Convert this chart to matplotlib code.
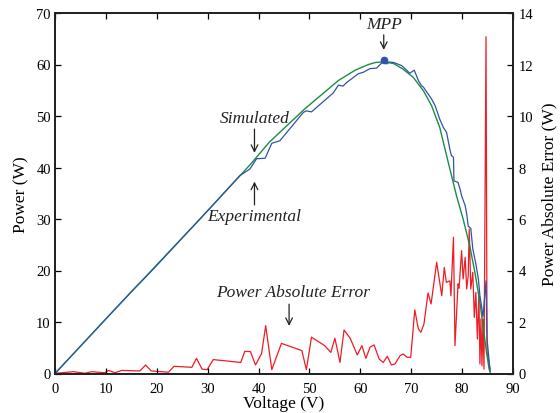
import matplotlib
matplotlib.use("Agg")
import matplotlib.pyplot as plt

# Simulated power curve (green)
sim_v = [0, 10, 20, 30, 38.3, 42.2, 49.1, 55.7, 59.0, 61.6, 63.0, 64.5, 66.5, 68.4, 70.4,
         72.4, 74.0, 75.6, 77.2, 78.9, 80.2, 81.5, 82.5, 83.5, 84.1, 84.8, 85.3, 85.6]
sim_p = [0, 10.6, 21.1, 31.6, 40.5, 45.0, 51.4, 56.9, 58.9, 60.0, 60.4, 60.5, 60.2, 59.1, 57.5,
         54.9, 52.0, 47.8, 41.3, 34.5, 30.0, 24.8, 19.7, 13.8, 9.3, 4.1, 0.9, 0]

# Experimental power curve (blue)
exp_v = [0, 5, 10, 15, 17.7, 20, 25, 28.5, 36.3, 38.3, 39.6, 41.3, 42.6, 44.2, 48.8, 49.4,
         50.4, 54.7, 55.7, 56.6, 57.3, 59.6, 60.6, 61.9, 63.2, 64.2, 64.6, 65.2, 65.6, 66.5,
         68.1, 69.1, 69.7, 70.6, 71.4, 72.0, 72.4, 73.3, 74.0, 74.7, 75.6, 76.3, 76.95, 77.6,
         77.9, 78.3, 78.4, 79.2, 79.6, 79.9, 80.6, 80.9, 81.2, 81.7, 82.1, 82.7, 83.2, 83.5,
         83.8, 84.1, 84.7, 84.9, 85.5]
exp_p = [0, 5.3, 10.6, 15.9, 18.6, 21.0, 26.3, 30.0, 38.4, 39.7, 41.7, 41.8, 44.7, 45.2, 50.7, 51.0,
         50.8, 54.5, 56.0, 55.8, 56.5, 58.2, 58.5, 59.2, 59.3, 60.3, 60.9, 60.1, 60.5, 60.4,
         59.8, 58.9, 58.3, 58.9, 56.9, 55.9, 55.6, 54.3, 53.3, 52.0, 49.4, 47.8, 46.8, 43.5,
         42.3, 42.0, 37.4, 37.1, 35.8, 34.5, 32.6, 31.0, 28.6, 28.2, 24.2, 21.3, 18.3, 15.1,
         13.2, 11.0, 18.0, 6.7, 0.5]

# Power absolute error (red, right axis)
err_v = [0.2, 3.6, 5.9, 7.2, 9.8, 10.5, 11.8, 13.1, 16.7, 17.8, 18.9, 22.3, 23.4, 26.9, 27.8,
         28.9, 29.9, 31.1, 36.5, 37.3, 38.4, 39.4, 40.6, 41.4, 42.6, 44.5, 48.5, 49.4, 50.4,
         53.0, 54.2, 55.0, 56.0, 56.8, 58.0, 59.4, 60.3, 61.1, 61.9, 62.7, 63.7, 64.5, 65.3,
         66.1, 66.8, 67.8, 68.4, 69.2, 69.9, 70.7, 71.4, 71.9, 72.5, 73.3, 73.9, 75.0, 76.0,
         76.5, 76.9, 77.6, 77.8, 78.3, 78.6, 79.2, 79.4, 79.9, 80.2, 80.6, 80.9, 81.2, 81.4,
         81.7, 82.1, 82.4, 82.7, 83.0, 83.3, 83.5, 83.7, 83.9, 84.1, 84.3, 84.7, 84.9, 85.5]
err_e = [0.01, 0.07, 0.01, 0.07, 0.03, 0.12, 0.03, 0.12, 0.10, 0.33, 0.10, 0.05, 0.28, 0.24, 0.59,
         0.17, 0.15, 0.54, 0.43, 0.86, 0.85, 0.33, 0.78, 1.86, 0.15, 1.17, 0.89, 0.15, 1.41,
         1.08, 0.82, 1.37, 0.43, 1.69, 1.37, 0.72, 1.08, 0.59, 1.02, 1.11, 0.56, 0.43, 0.67,
         0.33, 0.37, 0.69, 0.76, 0.63, 0.63, 2.47, 1.73, 1.60, 1.92, 3.13, 2.70, 4.32, 3.02,
         4.12, 3.54, 3.60, 3.02, 5.29, 1.08, 3.48, 3.31, 4.77, 3.67, 4.51, 3.28, 3.80, 5.61,
         3.28, 3.93, 2.18, 3.15, 1.34, 3.02, 0.37, 2.12, 0.30, 2.12, 0.17, 13.08, 0.82, 0.17]

mpp_v = [64.6]
mpp_p = [60.9]

x_ticks = [0, 10, 20, 30, 40, 50, 60, 70, 80, 90]
y_ticks = [0, 10, 20, 30, 40, 50, 60, 70]
y2_ticks = [0, 2, 4, 6, 8, 10, 12, 14]

plt.rcParams['font.family'] = ['Liberation Serif', 'DejaVu Serif']

fig = plt.figure(figsize=(5.6, 4.14), dpi=100)
ax = fig.add_axes([55/560, 1 - 374.5/414, (513 - 55)/560, (374.5 - 14)/414])
ax2 = ax.twinx()

BLUE = '#3153a6'
GREEN = '#1c8c45'
RED = '#ee1c24'

ax2.plot(err_v, err_e, color=RED, lw=0.9, zorder=1)
ax.set_zorder(ax2.get_zorder() + 1)
ax.patch.set_visible(False)
ax.plot(sim_v, sim_p, color=GREEN, lw=1.0)
ax.plot(exp_v, exp_p, color=BLUE, lw=0.9)
ax.plot(mpp_v, mpp_p, 'o', color=BLUE, ms=4.5)

ax.set_xlim(0, 90)
ax.set_ylim(0, 70)
ax2.set_ylim(0, 14)
ax.set_xticks(x_ticks)
ax.set_yticks(y_ticks)
ax2.set_yticks(y2_ticks)

ax.tick_params(axis='x', direction='in', top=True, labelsize=10.5, length=4, width=0.9, pad=6)
ax.tick_params(axis='y', direction='in', right=False, labelsize=10.5, length=4, width=0.9, pad=3)
ax2.tick_params(direction='in', labelsize=10.5, length=4, width=0.9, pad=4)
for a in (ax, ax2):
    for s in a.spines.values():
        s.set_linewidth(1.3)
        s.set_color('#222222')

ax.set_xlabel('Voltage (V)', fontsize=12.5, labelpad=0)
ax.set_ylabel('Power (W)', fontsize=12.5, labelpad=5)
ax2.set_ylabel('Power Absolute Error (W)', fontsize=12.5, labelpad=6)

tkw = dict(fontsize=12.5, style='italic', ha='center', va='center', color='#222222')
akw = dict(arrowstyle='->', color='#222222', lw=0.9, mutation_scale=12)
ax.text(64.6, 67.8, 'MPP', **tkw)
ax.annotate('', xy=(64.6, 62.3), xytext=(64.6, 66.3), arrowprops=akw)
ax.text(39.2, 49.6, 'Simulated', **tkw)
ax.annotate('', xy=(39.2, 42.3), xytext=(39.2, 48.0), arrowprops=akw)
ax.text(39.2, 30.6, 'Experimental', **tkw)
ax.annotate('', xy=(39.2, 37.8), xytext=(39.2, 32.2), arrowprops=akw)
ax.text(46.8, 15.9, 'Power Absolute Error', **tkw)
ax.annotate('', xy=(46.0, 8.7), xytext=(46.0, 14.0), arrowprops=akw)

fig.savefig('out.png', dpi=100)
